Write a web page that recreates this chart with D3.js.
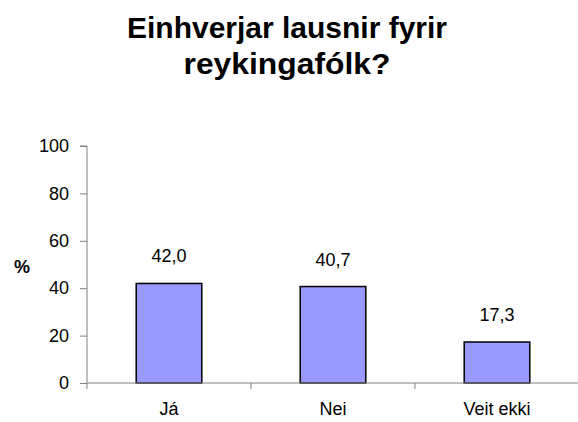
<!DOCTYPE html>
<html><head><meta charset="utf-8">
<script src="https://cdn.jsdelivr.net/npm/d3@7"></script>
<style>body{margin:0;background:#fff}svg{display:block}text{font-family:Arial,"Liberation Sans",sans-serif}</style>
</head><body>
<script>
const categories = ["Já", "Nei", "Veit ekki"];
const values = [42.0, 40.7, 17.3];
const yTicks = [0, 20, 40, 60, 80, 100];
const titleLines = ["Einhverjar lausnir fyrir", "reykingafólk?"];

(function () {
const W = 578, H = 422;
const svg = d3.select("body").append("svg").attr("width", W).attr("height", H);
const mLeft = 87, mRight = 579, mTop = 146, mBottom = 383;

const x = d3.scaleBand().domain(categories).range([mLeft, mRight]).paddingInner(0.6).paddingOuter(0.3);
const y = d3.scaleLinear().domain([0, 100]).range([mBottom, mTop]);

const titleW = [320, 207];
svg.selectAll("text.title").data(titleLines).enter().append("text")
  .attr("x", 287).attr("y", (d, i) => 38 + i * 36)
  .attr("text-anchor", "middle").attr("font-size", 29).attr("font-weight", "bold")
  .attr("textLength", (d, i) => titleW[i]).attr("lengthAdjust", "spacingAndGlyphs")
  .text(d => d);

// bars
svg.selectAll("rect.bar").data(values).enter().append("rect")
  .attr("x", (d, i) => x(categories[i])).attr("width", x.bandwidth())
  .attr("y", d => y(d)).attr("height", d => y(0) - y(d))
  .attr("fill", "#9999ff").attr("stroke", "#000").attr("stroke-width", 1.5);

// y axis
const yAxis = d3.axisLeft(y).tickValues(yTicks).tickSize(7).tickPadding(11);
const gy = svg.append("g").attr("transform", `translate(${mLeft},0)`).call(yAxis);
gy.select(".domain").attr("stroke", "#808080").attr("d", `M-7,${mTop}H0V${mBottom}`);
gy.selectAll(".tick line").attr("stroke", "#808080");
gy.selectAll(".tick text").attr("font-size", 18).attr("fill", "#000").attr("font-family", "Arial, 'Liberation Sans', sans-serif");

// x axis
const bandStep = (mRight - mLeft) / categories.length;
const gx = svg.append("g").attr("transform", `translate(0,${mBottom})`);
gx.append("line").attr("x1", mLeft).attr("x2", mRight).attr("stroke", "#808080");
gx.selectAll("line.tk").data(d3.range(0, categories.length + 1)).enter().append("line")
  .attr("x1", i => mLeft + i * bandStep).attr("x2", i => mLeft + i * bandStep)
  .attr("y1", 0).attr("y2", 6).attr("stroke", "#808080");
gx.selectAll("text").data(categories).enter().append("text")
  .attr("x", d => x(d) + x.bandwidth() / 2).attr("y", 32)
  .attr("text-anchor", "middle").attr("font-size", 18).text(d => d);

// value labels
svg.selectAll("text.val").data(values).enter().append("text")
  .attr("x", (d, i) => x(categories[i]) + x.bandwidth() / 2).attr("y", d => y(d) - 21)
  .attr("text-anchor", "middle").attr("font-size", 18)
  .text(d => d.toFixed(1).replace(".", ","));

svg.append("text").attr("x", 22).attr("y", 273).attr("text-anchor", "middle")
  .attr("font-size", 18).attr("font-weight", "bold").text("%");
})();
</script>
</body></html>
